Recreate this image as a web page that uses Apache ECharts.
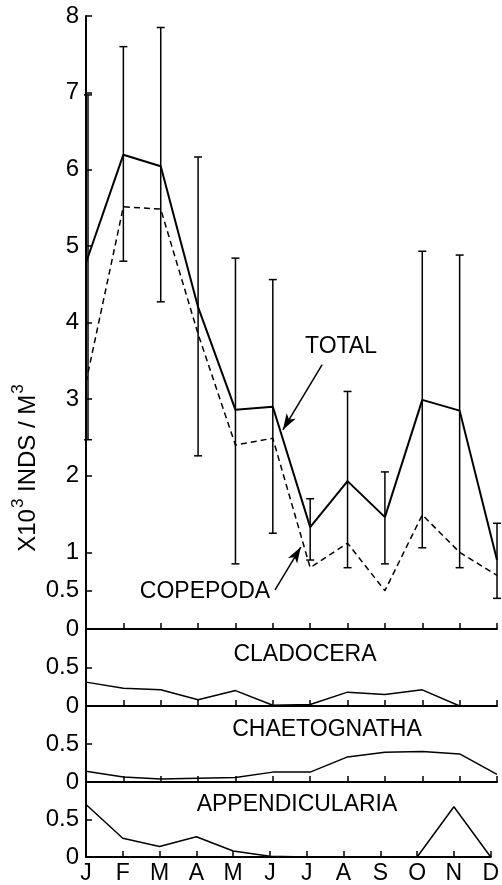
<!DOCTYPE html>
<html>
<head>
<meta charset="utf-8">
<script src="https://cdn.jsdelivr.net/npm/echarts@6/dist/echarts.min.js"></script>
<style>
html,body{margin:0;padding:0;background:#fff;}
#c{width:502px;height:885px;}
</style>
</head>
<body>
<div id="c"></div>
<script>
const months = ['J','F','M','A','M','J','J','A','S','O','N','D'];
const total = [4.78, 6.19, 6.04, 4.2, 2.86, 2.9, 1.33, 1.93, 1.46, 2.99, 2.85, 0.9];
const copepoda = [3.22, 5.51, 5.48, 3.85, 2.4, 2.49, 0.8, 1.12, 0.5, 1.49, 1.0, 0.7];
const errHigh = [6.97, 7.6, 7.85, 6.16, 4.84, 4.56, 1.7, 3.1, 2.05, 4.93, 4.88, 1.38];
const errLow = [2.47, 4.8, 4.27, 2.26, 0.85, 1.25, 0.9, 0.8, 0.85, 1.06, 0.8, 0.4];
const cladocera = [0.31, 0.23, 0.21, 0.08, 0.2, 0.01, 0.02, 0.18, 0.15, 0.21, 0, 0];
const chaetognatha = [0.14, 0.065, 0.04, 0.05, 0.06, 0.13, 0.13, 0.33, 0.39, 0.4, 0.37, 0.1];
const appendicularia = [0.7, 0.25, 0.14, 0.27, 0.08, 0.01, 0, 0, 0, 0, 0.67, 0];
const topTicks = [0, 0.5, 1, 2, 3, 4, 5, 6, 7, 8];
const subTicks = [0, 0.5];

const FONT = 'Liberation Sans';
const INK = '#000';
const pairs = arr => arr.map((v, i) => [i, v]);

const chart = echarts.init(document.getElementById('c'), null, {renderer: 'canvas'});

const grids = [
  {left: 86, top: 16, width: 411, height: 613},
  {left: 86, top: 629, width: 411, height: 77},
  {left: 86, top: 706, width: 411, height: 76},
  {left: 86, top: 782, width: 411, height: 76}
];

const xAxes = grids.map((g, i) => ({
  type: 'value', gridIndex: i, min: 0, max: 11, interval: 1,
  axisLine: {show: true, lineStyle: {color: INK, width: 2}},
  axisTick: {show: true, inside: true, length: 6, lineStyle: {color: INK, width: 1.5}},
  axisLabel: {
    show: i === 3, color: INK, fontFamily: FONT, fontSize: 23, margin: 5,
    formatter: v => months[v] || ''
  },
  splitLine: {show: false}
}));

const yAxes = grids.map((g, i) => {
  const ticks = i === 0 ? topTicks : subTicks;
  return {
    type: 'value', gridIndex: i, min: 0, max: i === 0 ? 8 : 1,
    axisLine: {show: true, lineStyle: {color: INK, width: 2}},
    axisTick: {show: true, inside: true, length: 6, customValues: ticks, lineStyle: {color: INK, width: 1.5}},
    axisLabel: {show: true, customValues: ticks, color: INK, fontFamily: FONT, fontSize: 24, margin: 7,
      formatter: v => String(v)},
    splitLine: {show: false}
  };
});

function errItem(params, api) {
  const x = api.value(0);
  const hi = api.coord([x, api.value(1)]);
  const lo = api.coord([x, api.value(2)]);
  const dx = x === 0 ? 2 : 0;
  const w = 4;
  const st = {stroke: INK, lineWidth: 1.5};
  return {
    type: 'group',
    x: dx,
    children: [
      {type: 'line', shape: {x1: hi[0], y1: hi[1], x2: lo[0], y2: lo[1]}, style: st},
      {type: 'line', shape: {x1: hi[0] - w, y1: hi[1], x2: hi[0] + w, y2: hi[1]}, style: st},
      {type: 'line', shape: {x1: lo[0] - w, y1: lo[1], x2: lo[0] + w, y2: lo[1]}, style: st}
    ]
  };
}

const arrowLine = {
  silent: true, symbolSize: [8, 16], animation: false,
  label: {show: false},
  lineStyle: {color: INK, width: 1.5, type: 'solid'},
  emphasis: {disabled: true}
};

const txt = (text, x, y) => ({
  type: 'text', x: x, y: y,
  style: {text: text, fill: INK, font: '23px "Liberation Sans"', align: 'center', verticalAlign: 'middle'}
});

const option = {
  animation: false,
  backgroundColor: '#fff',
  grid: grids,
  xAxis: xAxes,
  yAxis: yAxes,
  series: [
    {
      type: 'custom', xAxisIndex: 0, yAxisIndex: 0,
      renderItem: errItem,
      encode: {x: 0, y: [1, 2]},
      data: errHigh.map((h, i) => [i, h, errLow[i]]),
      z: 3
    },
    {
      type: 'line', xAxisIndex: 0, yAxisIndex: 0, symbol: 'none',
      data: pairs(total),
      lineStyle: {color: INK, width: 2},
      markLine: Object.assign({}, arrowLine, {
        data: [[{coord: [6.32, 3.45], symbol: 'none'}, {coord: [5.27, 2.6], symbol: 'arrow'}]]
      }),
      z: 4
    },
    {
      type: 'line', xAxisIndex: 0, yAxisIndex: 0, symbol: 'none',
      data: pairs(copepoda),
      lineStyle: {color: INK, width: 1.5, type: [6, 4]},
      markLine: Object.assign({}, arrowLine, {
        data: [[{coord: [5.06, 0.51], symbol: 'none'}, {coord: [5.75, 1.07], symbol: 'arrow'}]]
      }),
      z: 4
    },
    {
      type: 'line', xAxisIndex: 1, yAxisIndex: 1, symbol: 'none',
      data: pairs(cladocera), lineStyle: {color: INK, width: 1.5}
    },
    {
      type: 'line', xAxisIndex: 2, yAxisIndex: 2, symbol: 'none',
      data: pairs(chaetognatha), lineStyle: {color: INK, width: 1.5}
    },
    {
      type: 'line', xAxisIndex: 3, yAxisIndex: 3, symbol: 'none',
      data: pairs(appendicularia), lineStyle: {color: INK, width: 1.5}
    }
  ],
  graphic: [
    txt('TOTAL', 341, 347),
    txt('COPEPODA', 205, 592),
    txt('CLADOCERA', 305, 655),
    txt('CHAETOGNATHA', 327, 730),
    txt('APPENDICULARIA', 297, 805),
    {type: 'text', x: 25, y: 468, rotation: Math.PI / 2,
      style: {
        text: '{a|X10}{s|3}{a| INDS / M}{s|3}',
        align: 'center', verticalAlign: 'middle',
        rich: {
          a: {fill: INK, fontFamily: FONT, fontSize: 24, lineHeight: 30, verticalAlign: 'bottom'},
          s: {fill: INK, fontFamily: FONT, fontSize: 17, lineHeight: 30, verticalAlign: 'top', padding: [0, 0, 0, 1]}
        }
      }}
  ]
};
chart.setOption(option);
</script>
</body>
</html>
